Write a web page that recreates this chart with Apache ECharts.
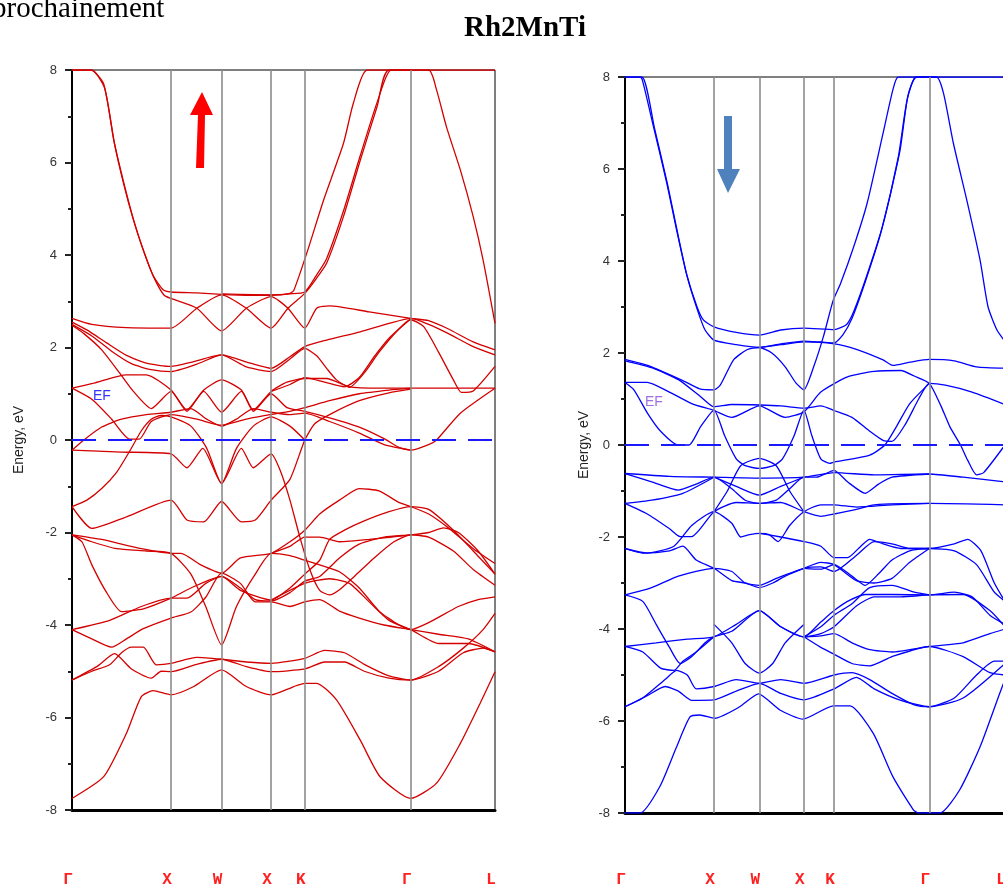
<!DOCTYPE html>
<html>
<head>
<meta charset="utf-8">
<script src="https://cdn.jsdelivr.net/npm/echarts@6/dist/echarts.min.js"></script>
<style>
html,body{margin:0;padding:0;background:#fff;overflow:hidden;}
#chart{width:1012px;height:891px;}
</style>
</head>
<body>
<div id="chart"></div>
<script>
// k-path: high-symmetry points along the Brillouin-zone path
const kTicks = [0, 1, 1.51, 2.01, 2.35, 3.42, 4.27];
const kLabels = ['Γ', 'X', 'W', 'X', 'K', 'Γ', 'L'];
const energyMin = -8;
const energyMax = 8;
const energyStep = 2;
const fermiLevel = 0;

// Spin-up bands, each as [k, E (eV)]
const upBands = [
  [[0,8],[0.19,8],[0.32,7.7],[0.42,6.5],[0.52,5.55],[0.62,4.76],[0.72,4.1],[0.82,3.55],[0.92,3.25],[1,3.2],[1.26,3.18],[1.51,3.15],[1.76,3.13],[2.01,3.13],[2.2,3.17],[2.24,3.24],[2.37,4.04],[2.54,5.19],[2.74,6.41],[2.84,7.28],[2.98,8],[3.6,8],[3.68,7.57],[3.78,6.77],[3.92,5.84],[4.05,4.83],[4.15,3.89],[4.27,2.52]],
  [[0,8],[0.2,8],[0.33,7.6],[0.43,6.4],[0.53,5.5],[0.63,4.7],[0.73,4.05],[0.83,3.5],[0.93,3.13],[1,3.06],[1.26,2.85],[1.51,2.36],[1.76,2.85],[2.01,3.1],[2.18,2.85],[2.35,2.42],[2.47,2.85],[2.6,2.9],[3.0,2.77],[3.42,2.63],[3.6,2.58],[3.8,2.4],[4.05,2.12],[4.27,1.95]],
  [[0,2.63],[0.2,2.5],[0.55,2.43],[1,2.42],[1.26,2.85],[1.51,3.14],[1.76,2.85],[2.01,2.42],[2.18,2.85],[2.35,3.17],[2.47,3.5],[2.57,3.82],[2.74,4.83],[2.91,6.05],[3.08,7.21],[3.2,8],[4.27,8]],
  [[1.51,3.16],[2.01,3.14],[2.2,3.16],[2.35,3.2],[2.47,3.57],[2.57,3.92],[2.74,4.95],[2.91,6.15],[3.08,7.3],[3.22,8],[3.42,8]],
  [[0,2.55],[0.15,2.38],[0.35,2.1],[0.55,1.83],[0.75,1.66],[1,1.59],[1.2,1.68],[1.51,1.84],[1.8,1.66],[2.01,1.55],[2.2,1.8],[2.35,2.02],[2.57,2.16],[2.91,2.34],[3.2,2.52],[3.42,2.63],[3.6,2.5],[3.8,2.3],[4.05,2.02],[4.27,1.84]],
  [[0,2.5],[0.2,2.25],[0.4,1.92],[0.6,1.65],[0.8,1.52],[1,1.48],[1.26,1.64],[1.51,1.84],[1.76,1.58],[2.01,1.48],[2.2,1.75],[2.35,1.98],[2.47,1.82],[2.57,1.55],[2.67,1.3],[2.8,1.14],[2.95,1.45],[3.1,1.9],[3.3,2.4],[3.42,2.6],[3.55,2.45],[3.7,1.9],[3.85,1.3],[3.93,1.03],[4.05,1.06],[4.27,1.59]],
  [[2.01,1.05],[2.2,1.2],[2.35,1.35],[2.55,1.25],[2.75,1.15],[2.9,1.35],[3.05,1.8],[3.2,2.2],[3.42,2.62]],
  [[0,2.48],[0.12,2.3],[0.3,1.95],[0.48,1.45],[0.62,1.05],[0.8,0.68],[1,1.05],[1.16,0.62],[1.33,1.05],[1.51,0.6],[1.71,1.05],[1.83,0.62],[2.01,1.0],[2.17,0.7],[2.35,0.62],[2.6,0.48],[2.9,0.28],[3.15,0.03],[3.3,-0.16],[3.42,-0.22],[3.6,-0.1],[3.68,0.0],[3.92,0.58],[4.27,1.12]],
  [[0,1.12],[0.22,1.23],[0.55,1.41],[0.75,1.41],[1,1.08],[1.16,0.65],[1.33,1.08],[1.51,1.3],[1.71,1.08],[1.83,0.65],[2.01,1.05],[2.17,1.25],[2.35,1.33],[2.57,1.33],[2.8,1.15],[3.1,1.12],[3.42,1.12],[3.8,1.12],[4.27,1.12]],
  [[0,1.12],[0.2,0.88],[0.4,0.45],[0.58,0.02],[0.68,0.02],[0.8,0.4],[1,0.55],[1.26,0.45],[1.51,0.32],[1.76,0.45],[2.01,0.55],[2.2,0.62],[2.35,0.7],[2.6,0.85],[2.9,1.0],[3.2,1.08],[3.42,1.12]],
  [[0,-0.22],[0.12,0.0],[0.3,0.28],[0.5,0.45],[0.75,0.55],[1,0.6],[1.2,0.68],[1.36,0.45],[1.51,0.3],[1.66,0.45],[1.83,0.68],[2.01,0.6],[2.2,0.55],[2.35,0.58],[2.6,0.4],[2.9,0.15],[3.15,-0.1],[3.42,-0.22]],
  [[0,-1.44],[0.15,-1.3],[0.3,-1.05],[0.45,-0.7],[0.58,-0.25],[0.7,0.2],[0.8,0.45],[0.9,0.53],[1,0.5],[1.2,0.3],[1.36,-0.18],[1.51,-0.94],[1.66,-0.18],[1.83,0.3],[2.01,0.5],[2.2,0.3],[2.35,0.0]],
  [[0,-0.22],[0.5,-0.26],[1,-0.3],[1.16,-0.6],[1.32,-0.18],[1.51,-0.94],[1.71,-0.18],[1.83,-0.6],[2.01,-0.3],[2.1,-0.65],[2.2,-1.3],[2.3,-2.1],[2.4,-2.8],[2.5,-3.25],[2.6,-3.35],[2.7,-3.24],[2.85,-2.95],[3.05,-2.55],[3.25,-2.2],[3.42,-2.05],[3.6,-2.1],[3.85,-2.4],[4.05,-2.8],[4.27,-3.14]],
  [[0,-1.44],[0.2,-1.91],[0.55,-1.66],[1,-1.3],[1.16,-1.73],[1.33,-1.77],[1.51,-1.33],[1.71,-1.77],[1.85,-1.73],[2.01,-1.3],[2.2,-0.85],[2.35,0.0],[2.45,0.35],[2.6,0.55],[2.9,0.85],[3.2,1.02],[3.42,1.1]],
  [[0,-2.05],[0.3,-2.15],[0.7,-2.35],[1,-2.45],[1.1,-2.45],[1.3,-2.7],[1.51,-2.88],[1.7,-2.55],[2.01,-2.45],[2.2,-2.2],[2.35,-1.95],[2.5,-1.6],[2.7,-1.3],[2.9,-1.05],[3.1,-1.1],[3.3,-1.35],[3.42,-1.44],[3.6,-1.6],[3.8,-1.9],[4.05,-2.35],[4.27,-2.67]],
  [[0,-2.05],[0.1,-2.2],[0.2,-2.7],[0.35,-3.3],[0.5,-3.71],[0.72,-3.65],[1,-3.42],[1.2,-3.2],[1.51,-2.95],[1.7,-3.25],[2.01,-3.46],[2.2,-3.2],[2.35,-2.9],[2.5,-2.6],[2.6,-2.15],[2.75,-1.95],[2.95,-1.75],[3.2,-1.55],[3.42,-1.44],[3.6,-1.5],[3.85,-1.95],[4.05,-2.4],[4.27,-2.9]],
  [[0,-4.1],[0.38,-3.9],[0.7,-3.6],[1,-3.42],[1.16,-3.42],[1.35,-3.1],[1.51,-2.95],[1.7,-3.2],[1.85,-3.45],[2.01,-3.48],[2.2,-3.3],[2.35,-3.05],[2.5,-2.95],[2.7,-2.55],[2.9,-2.25],[3.15,-2.1],[3.42,-2.05],[3.6,-2.0],[3.75,-1.9],[3.9,-2.0],[4.1,-2.4],[4.27,-2.9]],
  [[0,-4.1],[0.2,-4.3],[0.4,-4.48],[0.55,-4.3],[0.72,-4.08],[1,-3.85],[1.2,-3.72],[1.35,-3.4],[1.51,-2.88],[1.7,-3.1],[1.85,-3.5],[2.01,-3.5],[2.2,-3.6],[2.35,-3.5],[2.5,-3.45],[2.7,-3.7],[2.9,-3.85],[3.15,-4.0],[3.42,-4.1],[3.7,-4.2],[4.0,-4.3],[4.27,-4.58]],
  [[0,-2.05],[0.2,-2.2],[0.45,-2.35],[0.75,-2.4],[1,-2.45],[1.2,-2.9],[1.35,-3.6],[1.51,-4.43],[1.66,-3.6],[1.85,-2.9],[2.01,-2.45],[2.2,-2.5],[2.35,-2.6],[2.5,-2.7],[2.7,-2.85],[2.9,-3.2],[3.1,-3.7],[3.3,-4.0],[3.42,-4.1],[3.6,-3.95],[3.9,-3.6],[4.1,-3.45],[4.27,-3.39]],
  [[0,-5.19],[0.2,-5.0],[0.38,-4.86],[0.5,-4.6],[0.6,-4.48],[0.72,-4.48],[0.85,-4.86],[1,-4.83],[1.26,-4.7],[1.51,-4.74],[1.76,-4.8],[2.01,-4.83],[2.35,-4.72],[2.55,-4.55],[2.75,-4.6],[2.95,-4.85],[3.2,-5.1],[3.42,-5.19],[3.7,-4.9],[3.95,-4.5],[4.15,-4.1],[4.27,-3.75]],
  [[0,-5.19],[0.25,-4.9],[0.43,-4.62],[0.6,-4.95],[0.8,-5.15],[0.9,-5.0],[1,-5.01],[1.26,-4.85],[1.51,-4.74],[1.76,-4.9],[2.01,-5.01],[2.35,-4.95],[2.55,-4.8],[2.75,-4.8],[2.95,-5.0],[3.2,-5.15],[3.42,-5.19],[3.7,-5.0],[3.95,-4.6],[4.15,-4.5],[4.27,-4.58]],
  [[0,-7.75],[0.32,-7.28],[0.55,-6.34],[0.7,-5.55],[0.82,-5.42],[1,-5.51],[1.23,-5.33],[1.51,-4.97],[1.76,-5.33],[2.01,-5.51],[2.24,-5.33],[2.35,-5.26],[2.47,-5.26],[2.67,-5.62],[2.91,-6.49],[3.11,-7.28],[3.42,-7.75],[3.68,-7.42],[3.92,-6.56],[4.12,-5.69],[4.27,-5.01]],
  [[2.01,-2.45],[2.2,-2.3],[2.35,-2.1],[2.5,-2.1],[2.7,-2.2],[3.0,-2.15],[3.42,-2.05]],
  [[2.01,-3.46],[2.35,-3.1],[2.6,-3.0],[2.8,-3.1],[3.0,-3.5],[3.2,-3.9],[3.42,-4.1],[3.7,-4.4],[4.0,-4.4],[4.27,-4.58]]
];

// Spin-down bands, each as [k, E (eV)]
const downBands = [
  [[0,8],[0.17,8],[0.2,7.9],[0.32,6.92],[0.47,5.69],[0.58,4.67],[0.69,3.73],[0.81,3.0],[0.88,2.72],[1.0,2.57],[1.25,2.45],[1.51,2.39],[1.75,2.5],[2.01,2.54],[2.35,2.51],[2.49,2.62],[2.57,2.9],[2.72,3.7],[2.9,4.8],[3.09,6.4],[3.18,7.6],[3.28,8],[4.27,8]],
  [[0,8],[0.19,8],[0.33,6.9],[0.48,5.65],[0.59,4.62],[0.7,3.65],[0.82,2.9],[0.9,2.5],[1.0,2.28],[1.25,2.18],[1.51,2.12],[1.75,2.2],[2.01,2.26],[2.2,2.24],[2.35,2.22],[2.45,2.4],[2.55,2.75],[2.7,3.55],[2.88,4.65],[3.07,6.25],[3.17,7.5],[3.27,8],[3.5,8],[3.58,7.64],[3.69,6.56],[3.84,5.33],[3.99,4.02],[4.08,3.0],[4.18,2.5],[4.27,2.25]],
  [[1.51,2.12],[1.75,2.18],[2.01,2.24],[2.35,2.2],[2.6,2.08],[2.9,1.85],[3.01,1.73],[3.2,1.8],[3.42,1.86],[3.7,1.83],[3.95,1.7],[4.27,1.67]],
  [[0,1.86],[0.27,1.72],[0.65,1.4],[0.84,1.22],[1,1.2],[1.07,1.3],[1.22,1.85],[1.37,2.07],[1.51,2.12],[1.65,2.0],[1.8,1.7],[1.92,1.35],[2.01,1.2],[2.12,1.7],[2.23,2.36],[2.34,3.15],[2.42,3.5],[2.57,4.31],[2.72,5.25],[2.9,6.78],[3.01,7.72],[3.07,8],[3.5,8]],
  [[0,1.83],[0.3,1.68],[0.6,1.42],[0.85,1.05],[1,0.83],[1.2,0.88],[1.51,0.87],[1.75,0.85],[2.01,0.8],[2.2,0.85],[2.35,0.75],[2.55,0.6],[2.75,0.3],[2.9,0.1],[3.0,0.08],[3.15,0.45],[3.3,1.0],[3.42,1.34],[3.6,1.3],[3.9,1.15],[4.27,0.88]],
  [[0,1.36],[0.25,1.36],[0.45,1.2],[0.75,0.9],[1,0.75],[1.2,0.6],[1.51,0.85],[1.8,0.6],[2.01,0.72],[2.2,1.15],[2.5,1.48],[2.8,1.6],[3.1,1.62],[3.25,1.5],[3.42,1.34],[3.55,0.85],[3.65,0.4],[3.77,0.0],[3.85,-0.33],[3.95,-0.65],[4.03,-0.6],[4.27,0.0]],
  [[0,1.36],[0.1,1.2],[0.25,0.7],[0.4,0.3],[0.6,0.0],[0.72,0.0],[0.85,0.4],[1,0.76],[1.12,0.2],[1.25,-0.3],[1.35,-0.45],[1.51,-0.51],[1.67,-0.45],[1.77,-0.3],[1.9,0.2],[2.01,0.76],[2.1,0.2],[2.2,-0.3],[2.3,-0.4],[2.35,-0.37],[2.75,-0.22],[2.92,0.0],[3.05,0.4],[3.2,0.9],[3.42,1.34]],
  [[1,-1.45],[1.15,-1.0],[1.3,-0.45],[1.51,-0.29],[1.7,-0.45],[1.85,-1.0],[2.01,-1.45]],
  [[1,-0.7],[1.25,-0.9],[1.51,-1.09],[1.75,-0.9],[2.01,-0.7]],
  [[0,-0.62],[0.5,-0.68],[1,-0.7],[1.51,-0.72],[2.01,-0.7],[2.35,-0.6],[2.8,-0.65],[3.42,-0.63],[3.8,-0.7],[4.27,-0.8]],
  [[0,-0.62],[0.3,-0.8],[0.6,-0.98],[0.8,-0.85],[1,-0.7],[1.2,-0.95],[1.35,-1.2],[1.51,-1.27],[1.7,-1.2],[1.85,-0.95],[2.01,-0.7],[2.15,-0.7],[2.35,-0.55],[2.5,-0.8],[2.7,-1.05],[2.85,-0.85],[3.0,-0.7],[3.42,-0.63]],
  [[0,-1.27],[0.3,-1.2],[0.65,-1.05],[1,-0.7]],
  [[0,-1.27],[0.25,-1.5],[0.5,-1.82],[0.62,-1.99],[0.75,-1.99],[1,-1.45],[1.25,-1.25],[1.51,-1.27],[1.75,-1.25],[2.01,-1.45],[2.2,-1.55],[2.35,-1.5],[2.6,-1.4],[2.8,-1.3],[3.42,-1.27],[4.27,-1.3]],
  [[0,-2.25],[0.25,-2.35],[0.55,-2.2],[0.75,-1.75],[1,-1.45],[1.2,-1.7],[1.3,-2.0],[1.4,-1.95],[1.51,-1.92],[1.62,-1.95],[1.72,-2.1],[1.85,-1.75],[2.01,-1.45],[2.2,-1.3],[2.35,-1.3],[2.6,-1.35],[3.0,-1.3],[3.42,-1.27]],
  [[0,-2.25],[0.2,-2.35],[0.5,-2.3],[0.65,-2.2],[0.8,-2.5],[1,-2.68],[1.2,-2.95],[1.35,-3.0],[1.51,-3.1],[1.66,-3.0],[1.8,-2.85],[2.01,-2.68],[2.2,-2.55],[2.35,-2.6],[2.6,-2.95],[2.8,-3.0],[3.0,-2.9],[3.2,-2.55],[3.42,-2.25]],
  [[0,-3.26],[0.3,-3.1],[0.6,-2.85],[1,-2.68],[1.2,-2.75],[1.35,-3.0],[1.51,-3.05],[1.7,-2.9],[2.01,-2.68],[2.2,-2.65],[2.35,-2.75],[2.6,-2.4],[2.8,-2.1],[3.0,-2.15],[3.2,-2.25],[3.42,-2.25],[3.7,-2.15],[3.85,-2.05],[4.0,-2.3],[4.15,-3.0],[4.27,-3.4]],
  [[0,-3.26],[0.2,-3.4],[0.35,-3.9],[0.5,-4.4],[0.62,-4.75],[0.75,-4.6],[0.9,-4.3],[1,-4.17],[1.2,-4.05],[1.51,-3.6],[1.75,-3.95],[2.01,-4.17],[2.2,-3.85],[2.35,-3.6],[2.5,-3.4],[2.7,-3.25],[3.0,-3.25],[3.42,-3.26],[3.7,-3.2],[3.9,-3.3],[4.1,-3.7],[4.27,-3.9]],
  [[0,-4.38],[0.35,-4.3],[0.7,-4.22],[1,-4.17],[1.25,-3.9],[1.51,-3.6],[1.75,-3.95],[2.01,-4.17],[2.2,-4.1],[2.35,-3.95],[2.6,-3.5],[2.8,-3.3],[3.1,-3.3],[3.42,-3.26],[3.8,-3.25],[4.1,-3.6],[4.27,-3.95]],
  [[1,-3.9],[1.2,-4.3],[1.35,-4.75],[1.51,-4.96],[1.66,-4.75],[1.8,-4.3],[2.01,-3.9]],
  [[0,-4.38],[0.2,-4.5],[0.4,-4.85],[0.55,-4.9],[0.65,-4.7],[0.8,-4.5],[1,-4.17]],
  [[0,-5.69],[0.2,-5.5],[0.45,-5.1],[0.58,-4.9],[0.7,-5.0],[0.8,-5.3],[1,-5.25],[1.25,-5.1],[1.51,-5.18],[1.75,-5.1],[2.01,-5.18],[2.35,-5.0],[2.55,-4.95],[2.75,-5.1],[3.0,-5.4],[3.25,-5.65],[3.42,-5.69],[3.7,-5.5],[3.95,-5.0],[4.15,-4.7],[4.27,-4.7]],
  [[0,-5.69],[0.25,-5.45],[0.45,-5.25],[0.6,-5.35],[0.75,-5.55],[1,-5.54],[1.25,-5.35],[1.51,-5.18],[1.75,-5.4],[2.01,-5.54],[2.35,-5.3],[2.6,-5.05],[2.8,-5.3],[3.1,-5.55],[3.42,-5.69],[3.8,-5.5],[4.27,-4.75]],
  [[0,-8],[0.17,-8],[0.39,-7.43],[0.58,-6.56],[0.73,-5.91],[0.84,-5.87],[1.01,-5.94],[1.29,-5.69],[1.5,-5.41],[1.74,-5.76],[2.0,-5.96],[2.34,-5.67],[2.53,-5.67],[2.79,-6.27],[3.01,-7.21],[3.24,-7.93],[3.3,-8],[3.54,-8],[3.76,-7.5],[3.99,-6.56],[4.21,-5.4],[4.27,-5.1]],
  [[2.01,-2.68],[2.2,-2.7],[2.35,-2.6],[2.55,-2.85],[2.7,-3.05],[2.85,-2.8],[3.0,-2.5],[3.2,-2.3],[3.42,-2.25],[3.7,-2.3],[3.95,-2.6],[4.15,-3.2],[4.27,-3.4]],
  [[1.51,-1.92],[1.75,-2.0],[2.01,-2.1],[2.2,-2.2],[2.35,-2.45],[2.5,-2.45],[2.65,-2.2],[2.75,-2.05],[2.9,-2.15],[3.1,-2.25],[3.42,-2.25]],
  [[2.01,-4.17],[2.2,-3.95],[2.35,-3.7],[2.55,-3.45],[2.75,-3.1],[3.0,-3.05],[3.25,-3.2],[3.42,-3.26]],
  [[2.01,-4.17],[2.2,-4.15],[2.35,-4.1],[2.55,-4.3],[2.75,-4.45],[3.0,-4.5],[3.42,-4.38],[3.8,-4.3],[4.1,-4.1],[4.27,-4.0]],
  [[2.01,-4.17],[2.2,-4.4],[2.35,-4.55],[2.55,-4.75],[2.75,-4.8],[3.0,-4.6],[3.42,-4.38],[3.8,-4.6],[4.1,-4.95],[4.27,-5.0]]
];

const upColor = '#d40000';
const downColor = '#0000ff';
const fermiColor = '#1a1aff';

const chart = echarts.init(document.getElementById('chart'), null, {renderer: 'canvas'});

function xAxisFor(gridIndex, labelMargin) {
  return {
    gridIndex: gridIndex,
    type: 'value',
    min: kTicks[0],
    max: kTicks[kTicks.length - 1],
    axisLine: {show: true, onZero: false, lineStyle: {color: '#000', width: 3}},
    axisTick: {show: false},
    splitLine: {show: false},
    axisLabel: {
      show: true,
      customValues: kTicks,
      margin: labelMargin,
      color: '#ff2020',
      fontSize: 16,
      fontWeight: 'bold',
      fontFamily: 'Liberation Mono',
      padding: [0, 8, 0, 0],
      formatter: function (v) {
        const i = kTicks.indexOf(v);
        return i >= 0 ? kLabels[i] : '';
      }
    }
  };
}

function yAxisFor(gridIndex, nameGap) {
  return {
    gridIndex: gridIndex,
    type: 'value',
    min: energyMin,
    max: energyMax,
    interval: energyStep,
    name: 'Energy, eV',
    nameLocation: 'middle',
    nameGap: nameGap,
    nameRotate: 90,
    nameTextStyle: {color: '#222', fontSize: 14, fontFamily: 'Liberation Sans'},
    axisLine: {show: true, onZero: false, lineStyle: {color: '#000', width: 2}},
    axisTick: {show: true, inside: false, length: 7, lineStyle: {color: '#222', width: 2}},
    minorTick: {show: true, splitNumber: 2, length: 4, lineStyle: {color: '#222', width: 2}},
    splitLine: {show: false},
    axisLabel: {color: '#333', fontSize: 13, fontFamily: 'Liberation Sans', margin: 15}
  };
}

function bandSeries(bands, color, axisIndex) {
  return bands.map(function (b) {
    return {
      type: 'line',
      xAxisIndex: axisIndex,
      yAxisIndex: axisIndex,
      data: b,
      showSymbol: false,
      smooth: 0.2,
      clip: true,
      silent: true,
      lineStyle: {color: color, width: 1.3},
      z: 3
    };
  });
}

function guideSeries(axisIndex) {
  // vertical lines at the interior high-symmetry points and the dashed Fermi level
  return {
    type: 'line',
    xAxisIndex: axisIndex,
    yAxisIndex: axisIndex,
    data: [],
    silent: true,
    markLine: {
      silent: true,
      symbol: 'none',
      label: {show: false},
      animation: false,
      data: kTicks.slice(1, kTicks.length - 1).map(function (k) {
        return {xAxis: k, lineStyle: {color: '#8c8c8c', width: 1.6, type: 'solid'}};
      }).concat([{yAxis: fermiLevel, lineStyle: {color: fermiColor, width: 2, type: [24, 12]}}])
    },
    z: 2
  };
}

const option = {
  animation: false,
  backgroundColor: '#fff',
  grid: [
    {left: 72, top: 70, width: 423, height: 740, show: true, borderColor: '#000', borderWidth: 1, backgroundColor: 'transparent'},
    {left: 625, top: 77, width: 380, height: 736, show: true, borderColor: '#000', borderWidth: 1, backgroundColor: 'transparent'}
  ],
  xAxis: [xAxisFor(0, 62), xAxisFor(1, 59)],
  yAxis: [yAxisFor(0, 46), yAxisFor(1, 34)],
  series: [guideSeries(0), guideSeries(1)]
    .concat(bandSeries(upBands, upColor, 0))
    .concat(bandSeries(downBands, downColor, 1)),
  graphic: [
    {type: 'text', left: -8, top: -5, style: {text: 'prochainement', font: '29px "Liberation Serif"', fill: '#000'}},
    {type: 'text', left: 464, top: 14, style: {text: 'Rh2MnTi', font: 'bold 29px "Liberation Serif"', fill: '#000'}},
    {type: 'text', left: 93, top: 389, style: {text: 'EF', font: '14px "Liberation Sans"', fill: '#3333ff'}},
    {type: 'text', left: 645, top: 395, style: {text: 'EF', font: '14px "Liberation Sans"', fill: '#a070e0'}},
    // spin-up arrow
    {type: 'polygon', shape: {points: [[196,168],[204,168],[205,115],[213,115],[202,92],[190,115],[198,115]]}, style: {fill: '#ff0000'}},
    // spin-down arrow
    {type: 'polygon', shape: {points: [[724,116],[732,116],[732,169],[740,169],[728,193],[717,169],[724,169]]}, style: {fill: '#4f81bd'}}
  ]
};

chart.setOption(option);
</script>
</body>
</html>
